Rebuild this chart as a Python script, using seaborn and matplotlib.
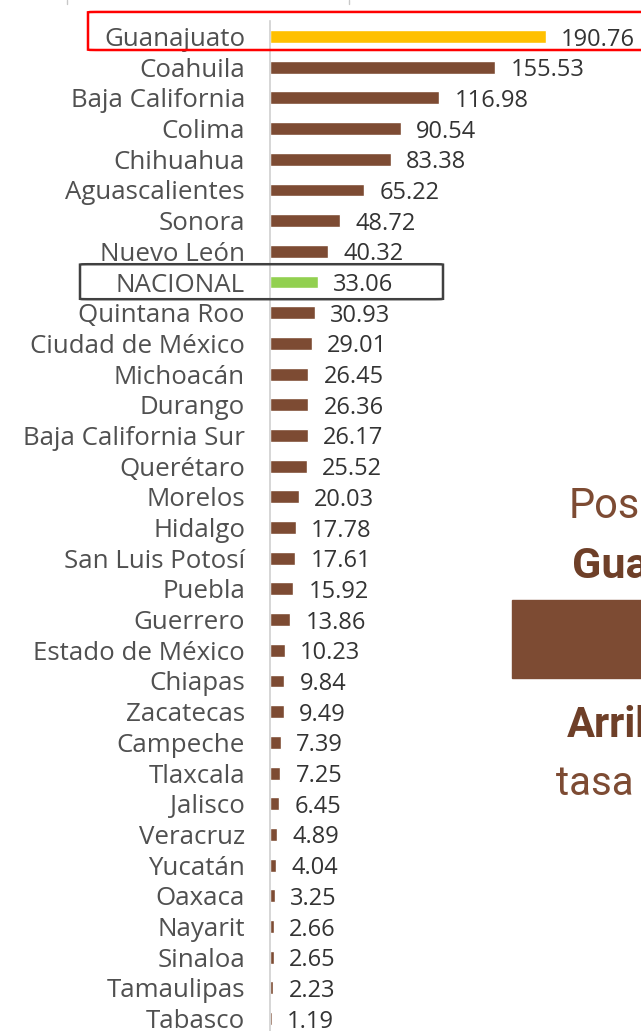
import matplotlib
matplotlib.use("Agg")
import matplotlib.pyplot as plt
import matplotlib.transforms as mtransforms
from matplotlib.patches import FancyBboxPatch, Rectangle
import pandas as pd
import seaborn as sns

# Data
estados = [
    "Guanajuato", "Coahuila", "Baja California", "Colima", "Chihuahua",
    "Aguascalientes", "Sonora", "Nuevo León", "NACIONAL", "Quintana Roo",
    "Ciudad de México", "Michoacán", "Durango", "Baja California Sur",
    "Querétaro", "Morelos", "Hidalgo", "San Luis Potosí", "Puebla",
    "Guerrero", "Estado de México", "Chiapas", "Zacatecas", "Campeche",
    "Tlaxcala", "Jalisco", "Veracruz", "Yucatán", "Oaxaca", "Nayarit",
    "Sinaloa", "Tamaulipas", "Tabasco",
]
tasas = [
    190.76, 155.53, 116.98, 90.54, 83.38, 65.22, 48.72, 40.32, 33.06, 30.93,
    29.01, 26.45, 26.36, 26.17, 25.52, 20.03, 17.78, 17.61, 15.92, 13.86,
    10.23, 9.84, 9.49, 7.39, 7.25, 6.45, 4.89, 4.04, 3.25, 2.66,
    2.65, 2.23, 1.19,
]

CAFE = "#7d4b33"
AMARILLO = "#ffc000"
VERDE = "#92d050"
colores = {e: CAFE for e in estados}
colores["Guanajuato"] = AMARILLO
colores["NACIONAL"] = VERDE

df = pd.DataFrame({"estado": estados, "tasa": tasas})

sns.set_theme(style="white")
plt.rcParams["font.family"] = ["Open Sans", "DejaVu Sans"]

W, H = 641, 1031
fig = plt.figure(figsize=(W / 100, H / 100), dpi=100)
ax = fig.add_axes([270 / W, 0, 1 - 270 / W, 1])

sns.barplot(
    data=df, y="estado", x="tasa", hue="estado", palette=colores,
    orient="h", width=0.42, saturation=1, legend=False, ax=ax,
)

for cont in ax.containers:
    labels = ax.bar_label(cont, fmt="%.2f", padding=11, fontsize=17,
                          color="#333333")
    for t in labels:
        t.set_va("center_baseline")

# scale: 0 at x=270px, 1.447 px per unit; rows 30.69 px apart, first at 36.5px
ax.set_xlim(0, (W - 270) / 1.447)
ax.set_ylim((H - 36.5) / 30.69, -36.5 / 30.69)

ax.set_xlabel("")
ax.set_ylabel("")
ax.set_xticks([])
ax.tick_params(axis="y", length=0, pad=18, labelsize=18.6, labelcolor="#505050")
for s in ["top", "right", "bottom"]:
    ax.spines[s].set_visible(False)
ax.spines["left"].set_color("#d0d0d0")
ax.spines["left"].set_linewidth(1.2)
ax.spines["left"].set_bounds(-0.5, 40)

# highlight boxes (x in figure fraction, y in row units)
trans = mtransforms.blended_transform_factory(fig.transFigure, ax.transData)
ax.add_patch(FancyBboxPatch(
    (88 / W, -0.80), (W + 20 - 88) / W, 1.24,
    boxstyle="round,pad=0,rounding_size=0.012", transform=trans,
    fill=False, edgecolor="#ff0000", linewidth=1.8, clip_on=False, zorder=5,
))
ax.add_patch(FancyBboxPatch(
    (80 / W, 7.42), (443 - 80) / W, 1.14,
    boxstyle="round,pad=0,rounding_size=0.012", transform=trans,
    fill=False, edgecolor="#404040", linewidth=1.8, clip_on=False, zorder=5,
))

# faint marks at the top edge
for xp in [67, 349]:
    fig.add_artist(plt.Line2D([xp / W, xp / W], [1, 1 - 4 / H],
                              color="#c8c8c8", linewidth=1))

# right-hand side panel (cut off in the original)
fig.text(569 / W, 1 - 518 / H, "Posición", fontsize=30, color=CAFE,
         family="Roboto", va="baseline")
fig.text(572 / W, 1 - 578 / H, "Guanajuato", fontsize=31, color="#6e3f28",
         family="Roboto", weight="bold", va="baseline")
fig.add_artist(Rectangle((512 / W, 1 - 678 / H), (W - 512) / W, 78 / H,
                         transform=fig.transFigure, color=CAFE))
fig.text(567 / W, 1 - 737 / H, "Arriba", fontsize=30, color="#6e3f28",
         family="Roboto", weight="bold", va="baseline")
fig.text(556 / W, 1 - 795 / H, "tasa nacional", fontsize=29, color=CAFE,
         family="Roboto", va="baseline")

fig.savefig("out.png", dpi=100)
